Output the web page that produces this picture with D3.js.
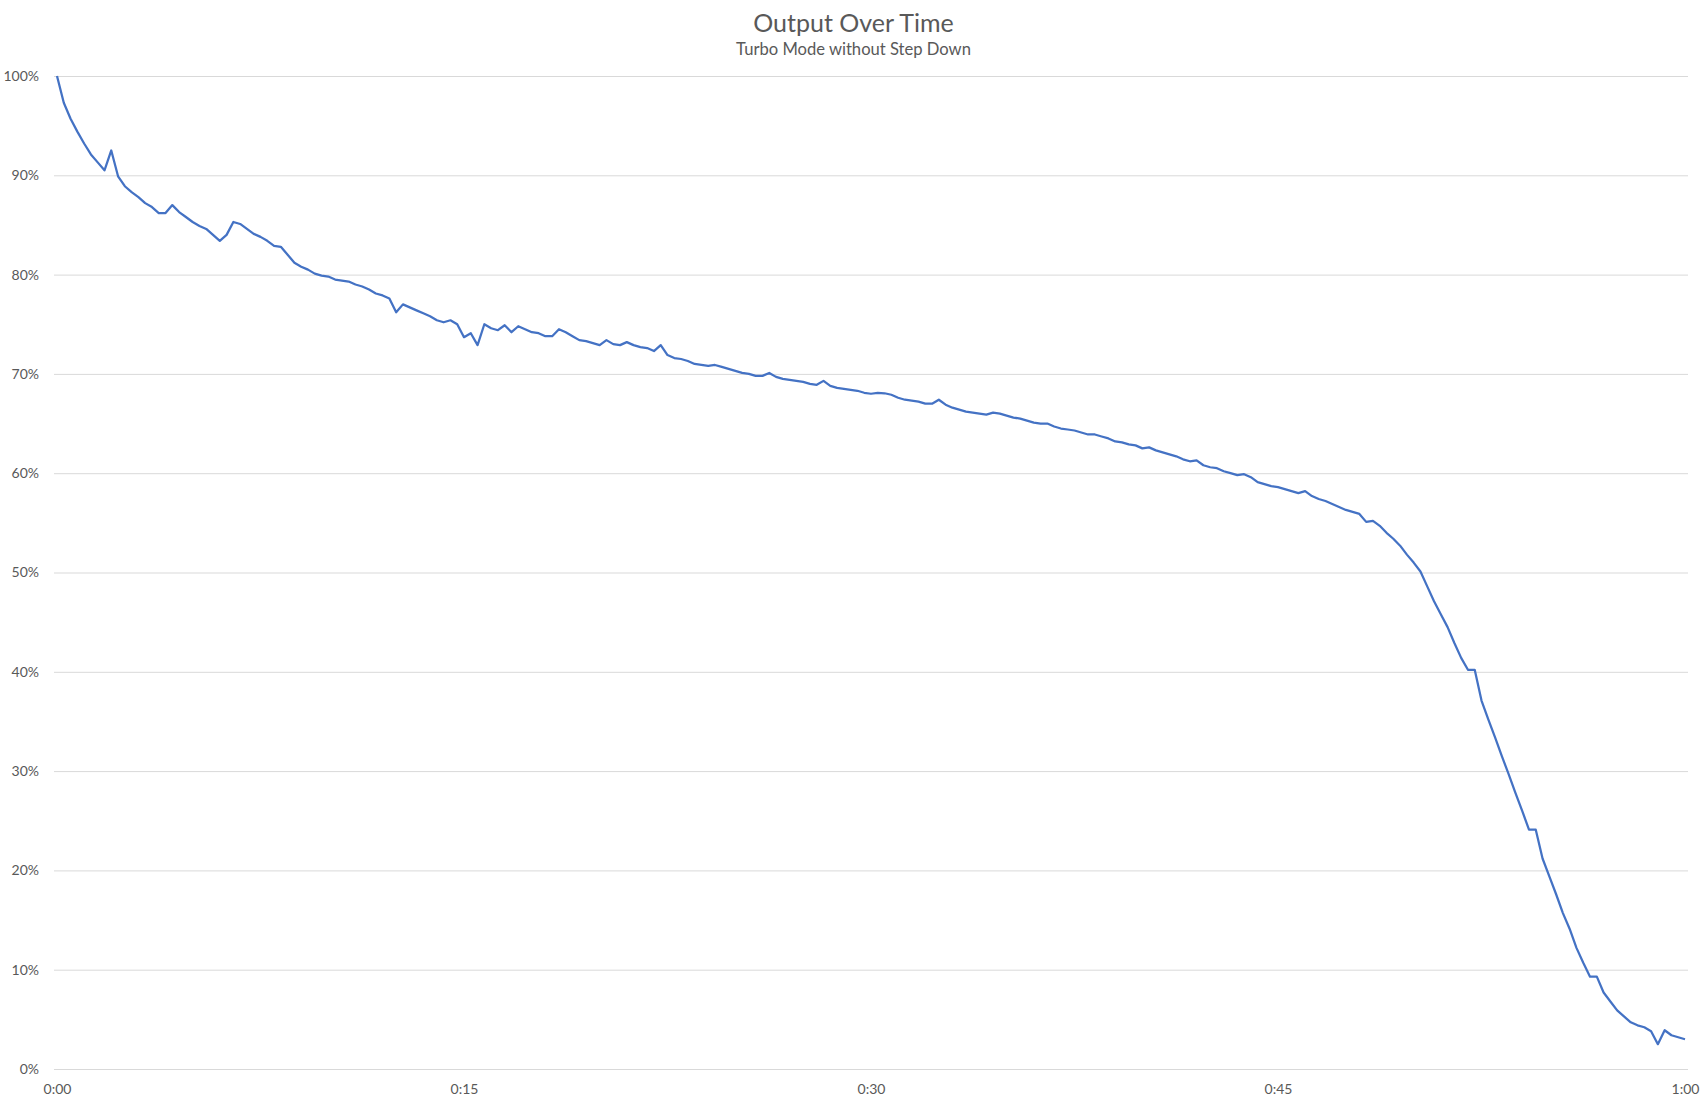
<!DOCTYPE html>
<html>
<head>
<meta charset="utf-8">
<script src="https://cdn.jsdelivr.net/npm/d3@7"></script>
<style>
  body { margin: 0; background: #fff; }
  #chart { width: 1707px; height: 1104px; }
</style>
</head>
<body>
<div id="chart"></div>
<script>
// output readings, one every 15 seconds, split by quarter hour
const firstQuarter = [100, 97.3, 95.7, 94.4, 93.2, 92.1, 91.3, 90.5, 92.5, 89.9, 88.9, 88.3, 87.8, 87.2, 86.8, 86.2, 86.2, 87.0, 86.3, 85.8,
  85.3, 84.9, 84.6, 84.0, 83.4, 84.0, 85.3, 85.1, 84.6, 84.1, 83.8, 83.4, 82.9, 82.8, 82.0, 81.2, 80.8, 80.5, 80.1, 79.9,
  79.8, 79.5, 79.4, 79.3, 79.0, 78.8, 78.5, 78.1, 77.9, 77.6, 76.2, 77.0, 76.7, 76.4, 76.1, 75.8, 75.4, 75.2, 75.4, 75.0];
const secondQuarter = [73.7, 74.1, 72.9, 75.0, 74.6, 74.4, 74.9, 74.2, 74.8, 74.5, 74.2, 74.1, 73.8, 73.8, 74.5, 74.2, 73.8, 73.4, 73.3, 73.1,
  72.9, 73.4, 73.0, 72.9, 73.2, 72.9, 72.7, 72.6, 72.3, 72.9, 71.9, 71.6, 71.5, 71.3, 71.0, 70.9, 70.8, 70.9, 70.7, 70.5,
  70.3, 70.1, 70.0, 69.8, 69.8, 70.1, 69.7, 69.5, 69.4, 69.3, 69.2, 69.0, 68.9, 69.3, 68.8, 68.6, 68.5, 68.4, 68.3, 68.1];
const thirdQuarter = [68.0, 68.1, 68.05, 67.9, 67.6, 67.4, 67.3, 67.2, 67.0, 67.0, 67.4, 66.9, 66.6, 66.4, 66.2, 66.1, 66.0, 65.9, 66.1, 66.0,
  65.8, 65.6, 65.5, 65.3, 65.1, 65.0, 65.0, 64.7, 64.5, 64.4, 64.3, 64.1, 63.9, 63.9, 63.7, 63.5, 63.2, 63.1, 62.9, 62.8,
  62.5, 62.6, 62.3, 62.1, 61.9, 61.7, 61.4, 61.2, 61.3, 60.8, 60.6, 60.5, 60.2, 60.0, 59.8, 59.9, 59.6, 59.1, 58.9, 58.7];
const fourthQuarter = [58.6, 58.4, 58.2, 58.0, 58.2, 57.7, 57.4, 57.2, 56.9, 56.6, 56.3, 56.1, 55.9, 55.1, 55.2, 54.7, 54.0, 53.4, 52.7, 51.8,
  51.0, 50.1, 48.6, 47.1, 45.8, 44.5, 42.9, 41.4, 40.2, 40.2, 37.1, 35.2, 33.4, 31.5, 29.7, 27.8, 26.0, 24.1, 24.1, 21.2,
  19.4, 17.6, 15.7, 14.1, 12.2, 10.7, 9.3, 9.3, 7.7, 6.8, 5.9, 5.3, 4.7, 4.4, 4.2, 3.8, 2.5, 3.9, 3.4, 3.2, 3.0];

const sampleStep = 0.25; // minutes between readings
const xTickValues = [0, 15, 30, 45, 60];
const xTickLabels = ["0:00", "0:15", "0:30", "0:45", "1:00"];
const yTickValues = [0, 10, 20, 30, 40, 50, 60, 70, 80, 90, 100];

const title = "Output Over Time";
const subtitle = "Turbo Mode without Step Down";

const outputPct = firstQuarter.concat(secondQuarter, thirdQuarter, fourthQuarter);
const data = outputPct.map((v, i) => ({ t: i * sampleStep, v: v }));

const width = 1707, height = 1104;
const textColor = "#595959";

const svg = d3.select("#chart").append("svg")
    .attr("width", width)
    .attr("height", height)
    .style("font-family", "Lato, 'Open Sans', sans-serif");

const x = d3.scaleLinear().domain([0, 60]).range([57, 1685]);
const y = d3.scaleLinear().domain([0, 100]).range([1069, 76]);

// gridlines + y labels
const yAxis = svg.append("g")
    .attr("transform", "translate(54,0)")
    .call(d3.axisLeft(y)
        .tickValues(yTickValues)
        .tickFormat(d => d + "%")
        .tickSize(-(1688 - 54))
        .tickPadding(15));
yAxis.select(".domain").remove();
yAxis.selectAll(".tick line").attr("stroke", "#d9d9d9").attr("stroke-width", 1);
yAxis.selectAll(".tick text")
    .attr("fill", textColor)
    .style("font-size", "14px")
    .style("font-family", "Lato, 'Open Sans', sans-serif");

// x labels
const xAxis = svg.append("g")
    .attr("transform", `translate(0,${y(0)})`)
    .call(d3.axisBottom(x)
        .tickValues(xTickValues)
        .tickFormat((d, i) => xTickLabels[i])
        .tickSize(0)
        .tickPadding(15));
xAxis.select(".domain").remove();
xAxis.selectAll(".tick text")
    .attr("fill", textColor)
    .style("font-size", "14px")
    .style("font-family", "Lato, 'Open Sans', sans-serif");

// the line
const line = d3.line()
    .x(d => x(d.t))
    .y(d => y(d.v));

svg.append("path")
    .datum(data)
    .attr("fill", "none")
    .attr("stroke", "#4472c4")
    .attr("stroke-width", 2.25)
    .attr("stroke-linejoin", "round")
    .attr("d", line);

// titles
svg.append("text")
    .attr("x", width / 2)
    .attr("y", 32)
    .attr("text-anchor", "middle")
    .attr("fill", textColor)
    .style("font-size", "25px")
    .text(title);

svg.append("text")
    .attr("x", width / 2)
    .attr("y", 55)
    .attr("text-anchor", "middle")
    .attr("fill", textColor)
    .style("font-size", "16.6px")
    .text(subtitle);
</script>
</body>
</html>
